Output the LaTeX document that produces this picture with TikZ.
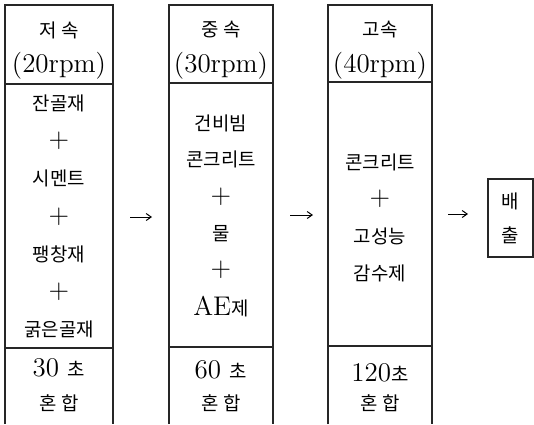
\documentclass[tikz,border=0pt]{standalone}
\usepackage{fontspec}
\newfontfamily\kr{Noto Sans CJK KR}[Scale=0.7]
\usetikzlibrary{arrows.meta, positioning}

\begin{document}
\begin{tikzpicture}[x=0.5pt, y=-0.5pt,
    t/.style={inner sep=0pt, font=\fontsize{13.5}{17}\selectfont},
    frame/.style={draw=black!85, line width=0.6pt},
    arr/.style={-{Straight Barb[length=2.5pt, width=3.5pt]}, line width=0.5pt}]
  \useasboundingbox (0,0) rectangle (534,424);

  % three open mixing columns
  \foreach \l/\rr/\ya/\yb in {5/113/84/348, 169/273/83/347, 328/432/82/346}{
    \draw[frame] (\l,424) -- (\l,5) -- (\rr,5) -- (\rr,424);
    \draw[frame] (\l,\ya) -- (\rr,\ya);
    \draw[frame] (\l,\yb) -- (\rr,\yb);
  }

  % speed headers
  \foreach \x/\i/\txt/\rp in {59/1/{저 속}/20, 221/2/{중 속}/30, 380/3/{고속}/40}{
    \draw node[t] (h\i) at (\x,30) {\kr \txt};
    \draw node[t] (r\i) at (\x,66) {(\rp rpm)};
  }

  % materials
  \foreach \txt [count=\i from 0] in {{\kr 잔골재}, +, {\kr 시멘트}, +, {\kr 팽창재}, +, {\kr 굵은골재}}
    \draw node[t] (a\i) at (59,{103+37.8*\i}) {\txt};
  \foreach \txt [count=\i from 0] in {{\kr 건비빔}, {\kr 콘크리트}, +, {\kr 물}, +, {AE{\kr 제}}}
    \draw node[t] (b\i) at (221,{123+36.8*\i}) {\txt};
  \foreach \txt [count=\i from 0] in {{\kr 콘크리트}, +, {\kr 고성능}, {\kr 감수제}}
    \draw node[t] (c\i) at (380,{162+37*\i}) {\txt};

  % mixing times
  \draw node[t] (f1) at (59,368) {30 {\kr 초}};
  \draw node[t] (f2) at (221,370) {60 {\kr 초}};
  \draw node[t] (f3) at (380,373) {120{\kr 초}};
  \foreach \x/\i in {59/1, 221/2, 380/3}
    \draw node[t] (m\i) at (\x,403) {\kr 혼 합};

  % discharge
  \draw node[t, frame, minimum width=22.5pt, minimum height=39pt, align=center] (out) at (510.5,218) {{\kr 배}\\{\kr 출}};

  \coordinate (s1) at (130,217); \coordinate (e1) at (152,217);
  \coordinate (s2) at (290,215); \coordinate (e2) at (313,215);
  \coordinate (s3) at (448,214); \coordinate (e3) at (468,214);
  \foreach \i in {1,2,3}
    \draw[arr] (s\i) -- (e\i);
\end{tikzpicture}
\end{document}
